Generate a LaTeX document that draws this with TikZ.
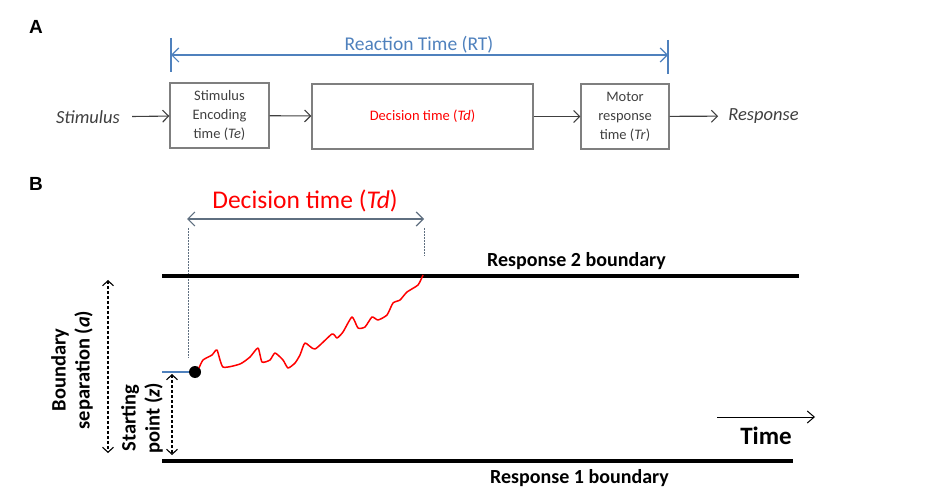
\documentclass[tikz,border=0pt]{standalone}
\usepackage{fontspec}
\setmainfont{Carlito}
\newfontfamily\panelfont{Liberation Sans}
\usepackage{xcolor}
\usepackage{tikz}
\usetikzlibrary{arrows.meta}

\definecolor{rtblue}{HTML}{4F81BD}
\definecolor{boxgray}{HTML}{7F7F7F}
\definecolor{txtgray}{HTML}{404040}
\definecolor{tdgray}{HTML}{5F6F80}

\tikzset{
  stagebox/.style = {draw = boxgray, line width = 1.3pt, align = center, text = txtgray,
                     font = \fontsize{14.5}{19}\selectfont, inner sep = 0pt},
  flow/.style = {line width = 1.1pt, draw = txtgray, -{Straight Barb[length=6pt, width=12pt]}},
  bound/.style = {line width = 3.5pt, draw = black},
  twoway/.style = {line width = 1.1pt, dashed, dash pattern = on 3pt off 2pt,
                   {Straight Barb[length=5pt, width=11pt]}-{Straight Barb[length=5pt, width=11pt]}},
  sidelabel/.style = {rotate = 90, align = center, font = \fontsize{20.5}{24}\selectfont\bfseries},
  panel/.style = {font = \panelfont\fontsize{19}{19}\selectfont\bfseries}
}

\begin{document}
\begin{tikzpicture}[x = 1pt, y = -1pt]
            \useasboundingbox (0, 0) rectangle (944, 502);
            % panel A
            \node (A) at (36, 27) [panel] {A};
            \node (stim) at (88, 117) [font = \fontsize{18.5}{20}\selectfont\itshape, text = txtgray, inner xsep = 12pt] {Stimulus};
            \node (enc) at (219.5, 115.5) [stagebox, minimum width = 99pt, minimum height = 65pt] {Stimulus\\Encoding\\time (\textit{Te})};
            \node (dec) at (422.5, 116.5) [stagebox, minimum width = 221pt, minimum height = 65pt, text = red] {Decision time (\textit{Td})};
            \node (mot) at (625, 116.5) [stagebox, minimum width = 88pt, minimum height = 65pt] {Motor\\response\\time (\textit{Tr})};
            \node (resp) at (763.5, 116) [font = \fontsize{18.5}{20}\selectfont\itshape, text = txtgray, inner xsep = 10pt] {Response};
            \draw [flow] (stim) edge (enc);
            \draw [flow] (enc) edge (dec);
            \draw [flow] (dec) edge (mot);
            \draw [flow] (mot) edge (resp);
            % reaction time
            \coordinate (rtl) at (171, 55);
            \coordinate (rtr) at (668, 55);
            \draw [rtblue, line width = 1.2pt] (171, 38) -- (171, 72);
            \draw [rtblue, line width = 1.2pt] (668, 40) -- (668, 74);
            \draw [rtblue, line width = 1.2pt, {Straight Barb[length=7pt, width=14pt]}-{Straight Barb[length=7pt, width=14pt]}] (rtl) -- (rtr);
            \node (rt) at (419, 45) [text = rtblue, font = \fontsize{19.5}{20}\selectfont] {Reaction Time (RT)};
            % panel B
            \node (B) at (36, 184) [panel] {B};
            \node (td) at (305, 201) [text = red, font = \fontsize{25.5}{26}\selectfont] {Decision time (\textit{Td})};
            \coordinate (tdl) at (187, 219);
            \coordinate (tdr) at (424, 219);
            \draw [tdgray, line width = 1.2pt, {Straight Barb[length=7pt, width=14pt]}-{Straight Barb[length=7pt, width=14pt]}] (tdl) -- (tdr);
            \draw [tdgray, line width = 0.8pt, dashed, dash pattern = on 2pt off 1pt] (188, 228) -- (188, 358);
            \draw [tdgray, line width = 0.8pt, dashed, dash pattern = on 2pt off 1pt] (424, 228) -- (424, 256);
            % boundaries
            \draw [bound] (162, 276) -- (799, 276);
            \draw [bound] (162, 461) -- (793, 461);
            \node (up) at (576.5, 261) [font = \fontsize{20}{20}\selectfont\bfseries] {Response 2 boundary};
            \node (low) at (579.5, 478) [font = \fontsize{20}{20}\selectfont\bfseries] {Response 1 boundary};
            % time
            \coordinate (t0) at (717, 417);
            \coordinate (t1) at (815, 417);
            \draw [line width = 1pt, -{Straight Barb[length=7pt, width=12pt]}] (t0) -- (t1);
            \node (time) at (766, 436) [font = \fontsize{25}{25}\selectfont\bfseries] {Time};
            % starting point and walk
            \node (start) at (195, 372) [circle, fill = black, minimum size = 12pt, inner sep = 0pt] {};
            \coordinate (zl) at (162, 372);
            \draw [rtblue, line width = 1.2pt] (zl) -- (start.west);
            \draw [red, line width = 1.5pt, line join = round]
              plot [smooth, tension = 0.35] coordinates {(199, 368) (203, 360) (212, 355) (217, 350) (223, 367) (240, 364) (250, 357) (258, 348)
                (262, 362) (270, 360) (275, 353) (283, 360) (288, 368) (295, 363) (300, 355) (305, 343) (315, 349)
                (332, 334) (337, 338) (343, 332) (352, 317) (358, 328) (365, 327) (372, 317) (378, 320) (387, 315)
                (393, 303) (400, 300) (407, 292) (418, 285) (423, 275)};
            % sizes
            \coordinate (zt) at (172, 374);
            \coordinate (zb) at (172, 455);
            \coordinate (at) at (108, 280);
            \coordinate (ab) at (108, 453);
            \draw [twoway] (zt) -- (zb);
            \draw [twoway] (at) -- (ab);
            \node (zlab) at (142, 418) [sidelabel] {Starting\\point (\textit{z})};
            \node (alab) at (72, 370) [sidelabel] {Boundary\\separation (\textit{a})};
\end{tikzpicture}
\end{document}
